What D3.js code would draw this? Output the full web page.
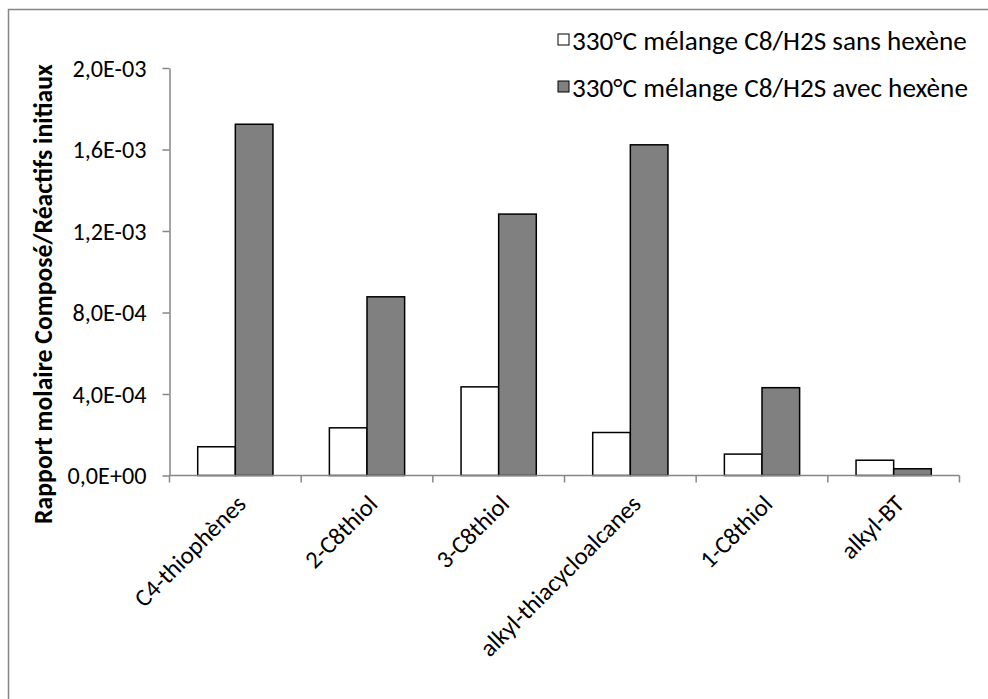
<!DOCTYPE html>
<html><head><meta charset="utf-8">
<script src="https://cdn.jsdelivr.net/npm/d3@7"></script>
<style>
html,body{margin:0;padding:0;background:#fff;}
text{font-family:Carlito,Calibri,"Open Sans",sans-serif;fill:#000;}
</style></head>
<body>
<svg id="chart" width="988" height="699"></svg>
<script>
const categories = ["C4-thiophènes","2-C8thiol","3-C8thiol","alkyl-thiacycloalcanes","1-C8thiol","alkyl-BT"];
const seriesNames = ["330°C mélange C8/H2S sans hexène","330°C mélange C8/H2S avec hexène"];
const sansHexene = [1.41e-4, 2.34e-4, 4.35e-4, 2.11e-4, 1.05e-4, 7.5e-5];
const avecHexene = [1.724e-3, 8.77e-4, 1.283e-3, 1.623e-3, 4.31e-4, 3.3e-5];
const yTicks = [0, 4e-4, 8e-4, 1.2e-3, 1.6e-3, 2.0e-3];
const yTickLabels = ["0,0E+00","4,0E-04","8,0E-04","1,2E-03","1,6E-03","2,0E-03"];
const yTitle = "Rapport molaire Composé/Réactifs initiaux";
const fills = ["#ffffff","#808080"];

const svg = d3.select("#chart");
const mL = 169.5, mR = 959.5, mT = 68, mB = 475.5;

function fitSize(sel, refNode, target){
  sel.style("font-size","20px");
  const w = refNode.getComputedTextLength();
  const fs = 20*target/w;
  sel.style("font-size", fs+"px");
  return fs;
}

svg.append("rect").attr("x",8.5).attr("y",9.5).attr("width",1000).attr("height",720)
  .attr("fill","none").attr("stroke","#868686").attr("stroke-width",1.5);

const x = d3.scaleBand().domain(categories).range([mL,mR]).paddingInner(0).paddingOuter(0);
const barW = x.bandwidth()/3.5;
const y = d3.scaleLinear().domain([0,2e-3]).range([mB,mT]);

// y axis
const yAxis = d3.axisLeft(y).tickValues(yTicks).tickSizeOuter(0).tickSizeInner(7).tickPadding(16)
  .tickFormat((d,i)=>yTickLabels[i]);
const gy = svg.append("g").attr("transform",`translate(${mL},0)`).call(yAxis);
gy.select(".domain").attr("stroke","#868686").attr("stroke-width",1.5);
gy.selectAll(".tick line").attr("stroke","#868686").attr("stroke-width",1.5);
const tickTexts = gy.selectAll(".tick text").attr("dy","0.35em");
gy.attr("font-family",null).attr("font-size",null);
fitSize(tickTexts, tickTexts.nodes()[tickTexts.size()-1], 74);

// bars
[sansHexene, avecHexene].forEach((vals,si)=>{
  svg.append("g").selectAll("rect").data(vals).join("rect")
    .attr("x",(d,i)=>x(categories[i]) + x.bandwidth()/2 - barW + si*barW)
    .attr("y",d=>y(d))
    .attr("width",barW)
    .attr("height",d=>y(0)-y(d))
    .attr("fill",fills[si]).attr("stroke","#000").attr("stroke-width",1.5);
});

// x axis
const gx = svg.append("g").attr("transform",`translate(0,${mB})`);
gx.append("line").attr("x1",mL).attr("x2",mR).attr("y1",0).attr("y2",0)
  .attr("stroke","#868686").attr("stroke-width",1.5);
const bounds = categories.map(c=>x(c)).concat([mR]);
gx.selectAll("line.tk").data(bounds).join("line").attr("class","tk")
  .attr("x1",d=>d).attr("x2",d=>d).attr("y1",0).attr("y2",7)
  .attr("stroke","#868686").attr("stroke-width",1.5);
const xl = gx.selectAll("text").data(categories).join("text")
  .attr("transform",d=>`translate(${x(d)+x.bandwidth()/2+12},30) rotate(-45)`)
  .attr("text-anchor","end").text(d=>d);
fitSize(xl, xl.nodes()[1], 91);

// y title
const yt = svg.append("text").attr("transform",`translate(52,294) rotate(-90)`)
  .attr("text-anchor","middle").style("font-weight","bold").text(yTitle);
fitSize(yt, yt.node(), 460);

// legend
const legY = [40, 87];
const legG = svg.append("g");
seriesNames.forEach((n,i)=>{
  legG.append("rect").attr("x",558).attr("y",legY[i]-6).attr("width",11).attr("height",11)
    .attr("fill",fills[i]).attr("stroke","#000").attr("stroke-width",1);
  legG.append("text").attr("x",572).attr("y",legY[i]).attr("dy","0.35em").text(n);
});
const lt = legG.selectAll("text");
fitSize(lt, lt.nodes()[0], 395);
</script>
</body></html>
